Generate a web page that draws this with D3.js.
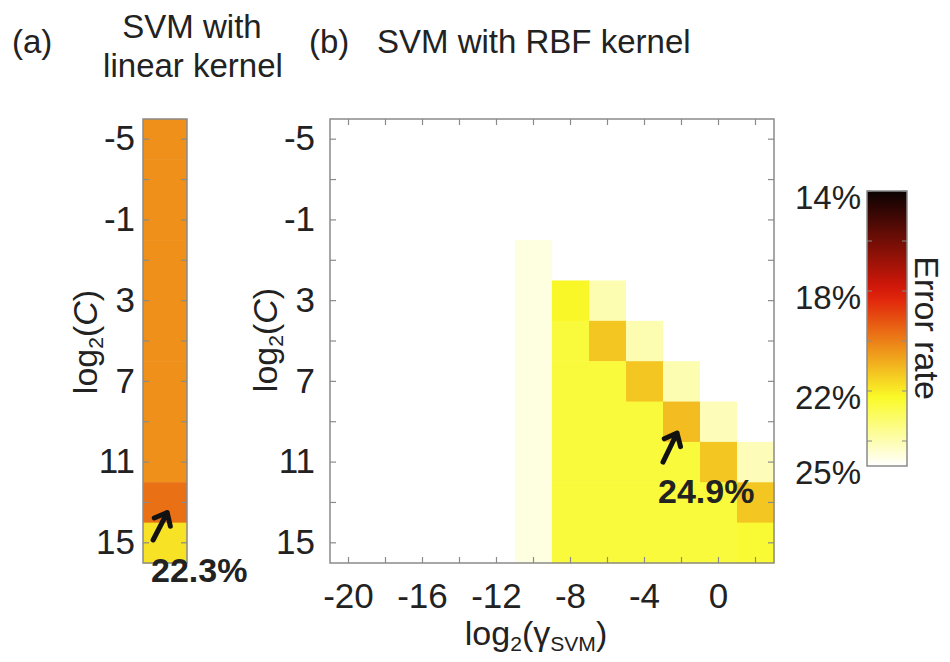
<!DOCTYPE html>
<meta charset="utf-8">
<script src="https://d3js.org/d3.v7.min.js"></script>
<style>
  body { margin: 0; background: #fff; }
  text { font-family: "Liberation Sans", Arial, sans-serif; fill: #222; }
</style>
<div id="chart"></div>
<script>
// rows: log2(C), shared by both panels
const cValues = [-5, -3, -1, 1, 3, 5, 7, 9, 11, 13, 15];
const cLabels = [-5, -1, 3, 7, 11, 15];
// columns of panel (b): log2(gamma)
const gammaValues = [-20, -18, -16, -14, -12, -10, -8, -6, -4, -2, 0, 2];
const gammaLabels = [-20, -16, -12, -8, -4, 0];

// (a) linear kernel, error rate (%) for each C
const linearErr = [20.3, 20.3, 20.3, 20.3, 20.3, 20.3, 20.3, 20.3, 20.3, 19.7, 21.8];

// (b) RBF kernel, error rate (%), one row per C, one column per gamma
const rbfErr = [
  [25, 25, 25, 25, 25, 25,   25,   25,   25,   25,   25,   25],
  [25, 25, 25, 25, 25, 25,   25,   25,   25,   25,   25,   25],
  [25, 25, 25, 25, 25, 25,   25,   25,   25,   25,   25,   25],
  [25, 25, 25, 25, 25, 24.6, 25,   25,   25,   25,   25,   25],
  [25, 25, 25, 25, 25, 24.6, 22.2, 24.0, 25,   25,   25,   25],
  [25, 25, 25, 25, 25, 24.6, 22.5, 21.3, 24.0, 25,   25,   25],
  [25, 25, 25, 25, 25, 24.6, 22.5, 22.5, 21.3, 24.0, 25,   25],
  [25, 25, 25, 25, 25, 24.6, 22.5, 22.5, 22.5, 21.1, 24.1, 25],
  [25, 25, 25, 25, 25, 24.6, 22.5, 22.5, 22.5, 22.5, 21.3, 24.1],
  [25, 25, 25, 25, 25, 24.6, 22.5, 22.5, 22.5, 22.5, 22.5, 21.3],
  [25, 25, 25, 25, 25, 24.6, 22.5, 22.5, 22.5, 22.5, 22.5, 22.4]
];

// colorbar
const cbarDomain = [14, 25];
const cbarTicks = [14, 16, 18, 20, 22, 24];
const cbarLabels = [14, 18, 22, 25];

// annotated cells
const bestLinear = { c: 13, label: "22.3%" };
const bestRbf = { c: 9, gamma: -2, label: "24.9%" };

// reversed "hot" colormap
const color = d3.scaleLinear()
  .domain([14, 18.125, 22.25, 25])
  .range(["#0a0202", "#e01a0a", "#fafa28", "#ffffff"])
  .clamp(true);

const W = 950, H = 662;
const plotTop = 119, plotBottom = 563;
const boxColor = "#8a8a8a";

const svg = d3.select("#chart").append("svg")
  .attr("width", W).attr("height", H);

// ---------- panel (a) ----------
const xA = [143, 187];
const yA = d3.scaleBand().domain(cValues).range([plotTop, plotBottom]);

const gA = svg.append("g");
gA.selectAll("rect")
  .data(cValues.map((c, i) => ({ c: c, v: linearErr[i] })))
  .join("rect")
  .attr("x", xA[0])
  .attr("y", d => yA(d.c))
  .attr("width", xA[1] - xA[0])
  .attr("height", yA.bandwidth() + 0.5)
  .attr("fill", d => color(d.v));

function styleAxis(g, size) {
  g.select(".domain").remove();
  g.selectAll(".tick line").attr("stroke", boxColor).attr("stroke-width", 1.2);
  g.selectAll(".tick text").attr("font-size", size)
    .attr("font-family", "'Liberation Sans', Arial, sans-serif").attr("fill", "#222");
}

gA.append("g")
  .attr("transform", `translate(${xA[0]},0)`)
  .call(d3.axisLeft(yA).tickSize(-6).tickPadding(8)
    .tickFormat(d => cLabels.includes(d) ? String(d) : ""))
  .call(g => styleAxis(g, 35));
gA.append("g")
  .attr("transform", `translate(${xA[1]},0)`)
  .call(d3.axisRight(yA).tickSize(-6).tickFormat(""))
  .call(g => styleAxis(g, 35));
gA.append("rect")
  .attr("x", xA[0]).attr("y", plotTop)
  .attr("width", xA[1] - xA[0]).attr("height", plotBottom - plotTop)
  .attr("fill", "none").attr("stroke", boxColor).attr("stroke-width", 1.5);

// ---------- panel (b) ----------
const xB = d3.scaleBand().domain(gammaValues).range([330, 774]);
const yB = d3.scaleBand().domain(cValues).range([plotTop, plotBottom]);

const gB = svg.append("g");
const cells = [];
rbfErr.forEach((row, i) => row.forEach((v, j) => cells.push({ c: cValues[i], g: gammaValues[j], v: v })));
gB.selectAll("rect.cell")
  .data(cells)
  .join("rect")
  .attr("class", "cell")
  .attr("x", d => xB(d.g))
  .attr("y", d => yB(d.c))
  .attr("width", xB.bandwidth() + 0.5)
  .attr("height", yB.bandwidth() + 0.5)
  .attr("fill", d => color(d.v));

gB.append("g")
  .attr("transform", "translate(330,0)")
  .call(d3.axisLeft(yB).tickSize(-6).tickPadding(15)
    .tickFormat(d => cLabels.includes(d) ? String(d) : ""))
  .call(g => styleAxis(g, 35));
gB.append("g")
  .attr("transform", "translate(774,0)")
  .call(d3.axisRight(yB).tickSize(-6).tickFormat(""))
  .call(g => styleAxis(g, 35));
gB.append("g")
  .attr("transform", `translate(0,${plotBottom})`)
  .call(d3.axisBottom(xB).tickSize(-6).tickPadding(20)
    .tickFormat(d => gammaLabels.includes(d) ? String(d) : ""))
  .call(g => styleAxis(g, 35));
gB.append("g")
  .attr("transform", `translate(0,${plotTop})`)
  .call(d3.axisTop(xB).tickSize(-6).tickFormat(""))
  .call(g => styleAxis(g, 35));
gB.append("rect")
  .attr("x", 330).attr("y", plotTop)
  .attr("width", 444).attr("height", plotBottom - plotTop)
  .attr("fill", "none").attr("stroke", boxColor).attr("stroke-width", 1.5);

// ---------- arrows and labels ----------
function arrow(x1, y1, x2, y2) {
  const a = Math.atan2(y2 - y1, x2 - x1), L = 14;
  const p = d3.path();
  p.moveTo(x1, y1); p.lineTo(x2, y2);
  p.moveTo(x2 - L * Math.cos(a - 0.7), y2 - L * Math.sin(a - 0.7));
  p.lineTo(x2, y2);
  p.lineTo(x2 - L * Math.cos(a + 0.7), y2 - L * Math.sin(a + 0.7));
  svg.append("path").attr("d", p.toString())
    .attr("fill", "none").attr("stroke", "#111").attr("stroke-width", 5)
    .attr("stroke-linecap", "round").attr("stroke-linejoin", "round");
}

const ha = yA(bestLinear.c), bwA = xA[1] - xA[0];
arrow(xA[0] + 0.23 * bwA, ha + 1.43 * yA.bandwidth(), xA[0] + 0.55 * bwA, ha + 0.75 * yA.bandwidth());
svg.append("text").attr("x", 151).attr("y", 582)
  .attr("font-size", 34).attr("font-weight", "bold").attr("fill", "#111")
  .text(bestLinear.label);

const hx = xB(bestRbf.gamma), hy = yB(bestRbf.c);
arrow(hx, hy + 1.5 * yB.bandwidth(), hx + 0.38 * xB.bandwidth(), hy + 0.78 * yB.bandwidth());
svg.append("text").attr("x", 658).attr("y", 503)
  .attr("font-size", 34).attr("font-weight", "bold").attr("fill", "#111")
  .text(bestRbf.label);

// ---------- colorbar ----------
const cb = { x: 867, w: 40, y0: 191, y1: 466 };
const cScale = d3.scaleLinear().domain(cbarDomain).range([cb.y0, cb.y1]);
const grad = svg.append("defs").append("linearGradient")
  .attr("id", "hot").attr("x1", 0).attr("x2", 0).attr("y1", 0).attr("y2", 1);
d3.range(0, 1.0001, 0.05).forEach(t => {
  grad.append("stop").attr("offset", t)
    .attr("stop-color", color(cbarDomain[0] + t * (cbarDomain[1] - cbarDomain[0])));
});
svg.append("rect").attr("x", cb.x).attr("y", cb.y0)
  .attr("width", cb.w).attr("height", cb.y1 - cb.y0)
  .attr("fill", "url(#hot)").attr("stroke", boxColor).attr("stroke-width", 1.5);
const cbTicks = svg.append("g");
cbarTicks.forEach(v => {
  cbTicks.append("line").attr("x1", cb.x).attr("x2", cb.x + 5)
    .attr("y1", cScale(v)).attr("y2", cScale(v)).attr("stroke", boxColor);
  cbTicks.append("line").attr("x1", cb.x + cb.w - 5).attr("x2", cb.x + cb.w)
    .attr("y1", cScale(v)).attr("y2", cScale(v)).attr("stroke", boxColor);
});
svg.append("g").selectAll("text")
  .data(cbarLabels)
  .join("text")
  .attr("x", 861)
  .attr("y", d => cScale(d) + 18)
  .attr("text-anchor", "end")
  .attr("font-size", 33)
  .text(d => d + "%");
svg.append("text")
  .attr("transform", "translate(927,328) rotate(90)")
  .attr("text-anchor", "middle").attr("dy", "0.35em")
  .attr("font-size", 34)
  .text("Error rate");

// ---------- axis titles ----------
function logLabel(sel, sub, inner, innerSub, italic) {
  sel.append("tspan").text("log");
  sel.append("tspan").attr("font-size", "0.62em").attr("dy", "0.3em").text(sub);
  sel.append("tspan").attr("dy", "-0.19em").text("(");
  sel.append("tspan").attr("font-style", italic ? "italic" : null).text(inner);
  if (innerSub) sel.append("tspan").attr("font-size", "0.62em").attr("dy", "0.3em").text(innerSub);
  sel.append("tspan").attr("dy", innerSub ? "-0.19em" : null).text(")");
}

svg.append("text")
  .attr("transform", "translate(85,342) rotate(-90)")
  .attr("text-anchor", "middle").attr("dy", "0.35em").attr("font-size", 34)
  .call(s => logLabel(s, "2", "C", null, true));
svg.append("text")
  .attr("transform", "translate(265,340) rotate(-90)")
  .attr("text-anchor", "middle").attr("dy", "0.35em").attr("font-size", 34)
  .call(s => logLabel(s, "2", "C", null, true));
svg.append("text")
  .attr("x", 536).attr("y", 645)
  .attr("text-anchor", "middle").attr("font-size", 34)
  .call(s => logLabel(s, "2", "\u03b3", "SVM", false));

// ---------- panel titles ----------
svg.append("text").attr("x", 12).attr("y", 53).attr("font-size", 33).text("(a)");
svg.append("text").attr("x", 192).attr("y", 38).attr("text-anchor", "middle").attr("font-size", 33).text("SVM with");
svg.append("text").attr("x", 193).attr("y", 77).attr("text-anchor", "middle").attr("font-size", 33).text("linear kernel");
svg.append("text").attr("x", 309).attr("y", 53).attr("font-size", 33).text("(b)");
svg.append("text").attr("x", 377).attr("y", 53).attr("font-size", 33).text("SVM with RBF kernel");
</script>
